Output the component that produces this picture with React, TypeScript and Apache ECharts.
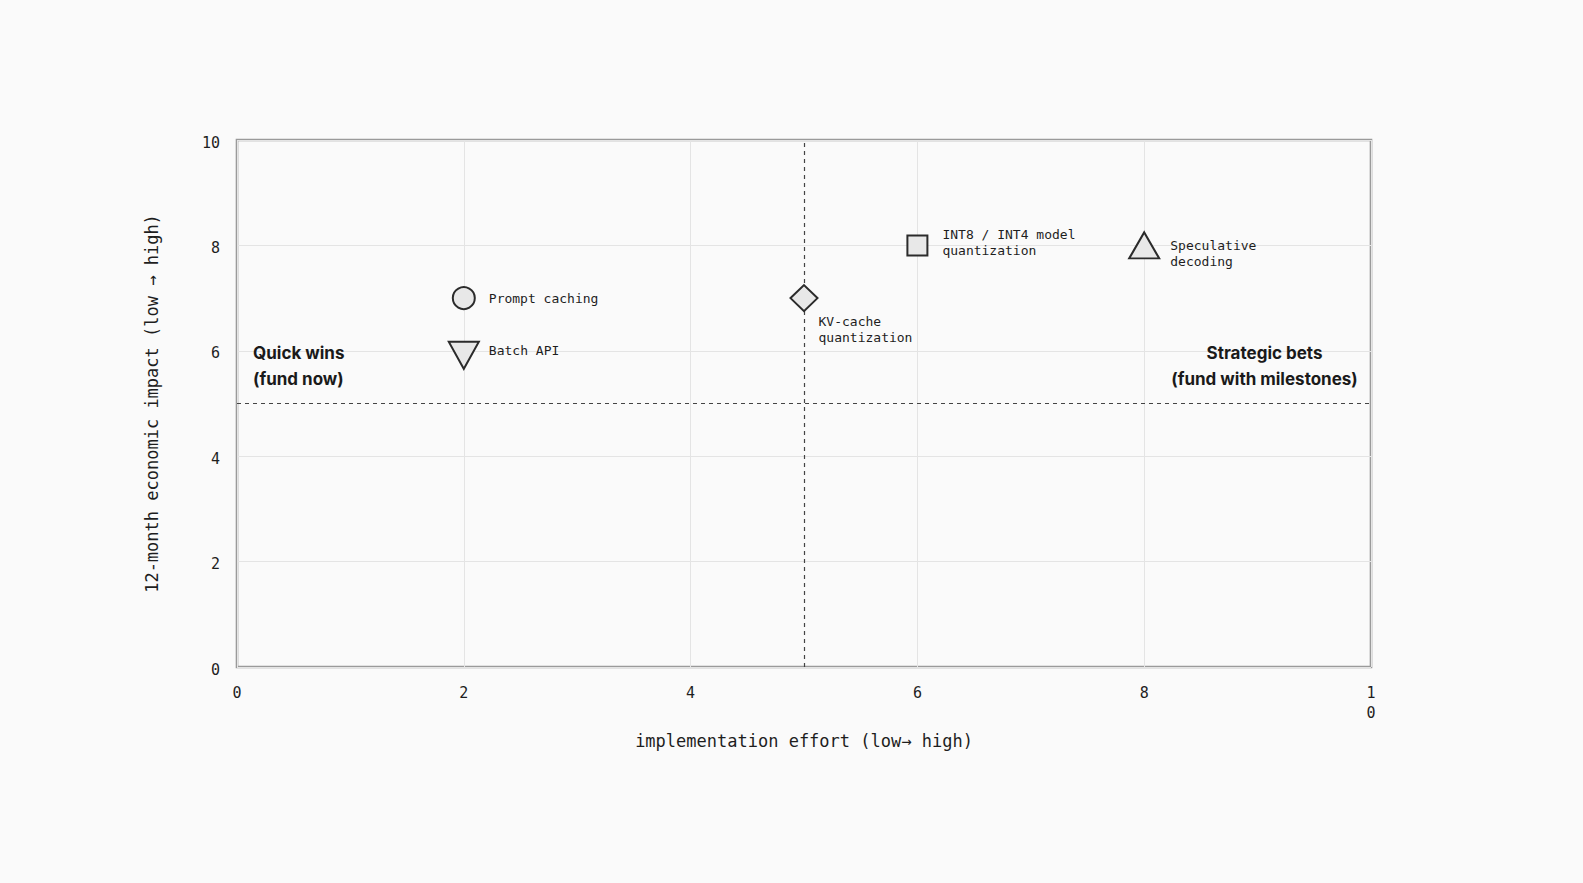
import React, { useEffect, useRef } from "react";
import * as echarts from "echarts";

// ---- data ----
const initiatives = [
  "Prompt caching",
  "Batch API",
  "KV-cache\nquantization",
  "INT8 / INT4 model\nquantization",
  "Speculative\ndecoding",
];
const effort = [2, 2, 5, 6, 8];
const impact = [7, 6, 7, 8, 8];
const markerShapes = ["circle", "triangleDown", "diamond", "rect", "triangle"];

const xTicks = [0, 2, 4, 6, 8, 10];
const yTicks = [0, 2, 4, 6, 8, 10];
const effortSplit = 5;
const impactSplit = 5;

const xAxisName = "implementation effort (low\u2192 high)";
const yAxisName = "12-month economic impact (low \u2192 high)";
const quadrantLeft = "Quick wins\n(fund now)";
const quadrantRight = "Strategic bets\n(fund with milestones)";

// ---- styles (not data) ----
const MONO = "'DejaVu Sans Mono', monospace";
const SANS = "Inter, 'Noto Sans', sans-serif";
const INK = "#1e1e1e";

const shapeStyle: Record<string, any> = {
  circle: { symbol: "circle", symbolSize: 22, symbolRotate: 0, symbolOffset: [0, 0] },
  triangleDown: { symbol: "triangle", symbolSize: [30, 27], symbolRotate: 180, symbolOffset: [0, 4.5] },
  diamond: { symbol: "diamond", symbolSize: [27, 26], symbolRotate: 0, symbolOffset: [0, 0] },
  rect: { symbol: "rect", symbolSize: 20, symbolRotate: 0, symbolOffset: [0, 0] },
  triangle: { symbol: "triangle", symbolSize: [30, 26], symbolRotate: 0, symbolOffset: [0, 0] },
};
const labelStyle = [
  { distance: 13, offset: [0, 0] },
  { distance: 9, offset: [0, -4.5] },
  { distance: 0, offset: [0, 31] },
  { distance: 14, offset: [0, -3] },
  { distance: 10, offset: [0, 8.5] },
];

export default function App() {
  const ref = useRef<HTMLDivElement>(null);

  useEffect(() => {
    if (!ref.current) return;
    const chart = echarts.init(ref.current, undefined, { renderer: "svg" });

    const data = initiatives.map((name, i) => {
      const s = shapeStyle[markerShapes[i]];
      return {
        name,
        value: [effort[i], impact[i]],
        symbol: s.symbol,
        symbolSize: s.symbolSize,
        symbolRotate: s.symbolRotate,
        symbolOffset: s.symbolOffset,
        label: {
          show: true,
          position: "right",
          distance: labelStyle[i].distance,
          offset: labelStyle[i].offset,
          formatter: "{b}",
          fontFamily: MONO,
          fontSize: 13,
          lineHeight: 16,
          color: INK,
          align: "left",
        },
      };
    });

    chart.setOption({
      animation: false,
      backgroundColor: "#fafafa",
      grid: {
        left: 237,
        top: 140,
        right: 212,
        bottom: 216,
        show: true,
        borderColor: "#9a9a9a",
        borderWidth: 2.6,
        backgroundColor: "transparent",
      },
      xAxis: {
        type: "value",
        min: xTicks[0],
        max: xTicks[xTicks.length - 1],
        interval: xTicks[1] - xTicks[0],
        name: xAxisName,
        nameLocation: "middle",
        nameGap: 65,
        nameTextStyle: { fontFamily: MONO, fontSize: 17, color: INK },
        axisLine: { show: false },
        axisTick: { show: false },
        axisLabel: {
          margin: 16,
          fontFamily: MONO,
          fontSize: 15,
          lineHeight: 20,
          color: INK,
          width: 10,
          overflow: "breakAll",
        },
        splitLine: { show: true, lineStyle: { color: "#e4e4e4", width: 1 } },
      },
      yAxis: {
        type: "value",
        min: yTicks[0],
        max: yTicks[yTicks.length - 1],
        interval: yTicks[1] - yTicks[0],
        name: yAxisName,
        nameLocation: "middle",
        nameGap: 77,
        nameRotate: 90,
        nameTextStyle: { fontFamily: MONO, fontSize: 17, color: INK },
        axisLine: { show: false },
        axisTick: { show: false },
        axisLabel: {
          margin: 17,
          formatter: "{t|{value}}",
          rich: {
            t: {
              fontFamily: MONO,
              fontSize: 15,
              color: INK,
              padding: [5, 0, 0, 0],
            },
          },
        },
        splitLine: { show: true, lineStyle: { color: "#e4e4e4", width: 1 } },
      },
      series: [
        {
          type: "scatter",
          data,
          itemStyle: { color: "#e8e8e8", borderColor: "#2b2b2b", borderWidth: 2, opacity: 1 },
          emphasis: { disabled: true },
          z: 5,
          markLine: {
            silent: true,
            symbol: "none",
            label: { show: false },
            lineStyle: { color: "#444444", type: [4, 4], width: 1.2, opacity: 1 },
            data: [{ xAxis: effortSplit }, { yAxis: impactSplit }],
            z: 3,
          },
        },
      ],
      graphic: [
        {
          type: "text",
          x: 253,
          y: 340,
          z: 10,
          style: {
            text: quadrantLeft,
            font: `bold 17px ${SANS}`,
            lineHeight: 26,
            fill: "#1a1a1a",
            align: "left",
            verticalAlign: "top",
          },
        },
        {
          type: "text",
          x: 1264.5,
          y: 340,
          z: 10,
          style: {
            text: quadrantRight,
            font: `bold 17px ${SANS}`,
            lineHeight: 26,
            fill: "#1a1a1a",
            align: "center",
            verticalAlign: "top",
          },
        },
      ],
    });

    return () => chart.dispose();
  }, []);

  return (
    <div
      ref={ref}
      style={{ position: "fixed", left: 0, top: 0, width: 1583, height: 883 }}
    />
  );
}
